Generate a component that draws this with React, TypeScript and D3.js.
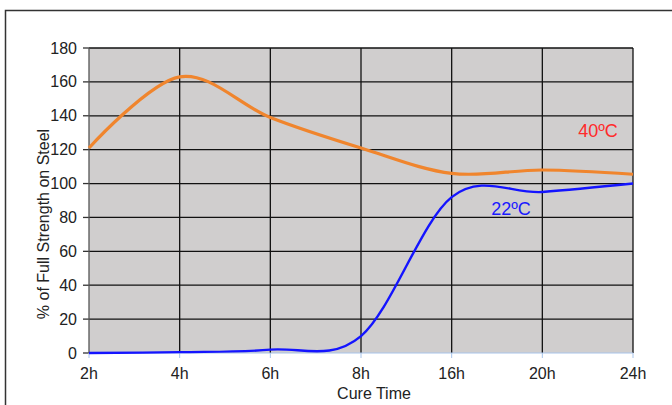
import React from 'react';
import * as d3 from 'd3';

const categories = ['2h', '4h', '6h', '8h', '16h', '20h', '24h'];
const strength40 = [121, 163, 139, 121, 106, 108, 105.5];
const strength22 = [0, 0.5, 2, 10, 92, 95, 100];
const yTicks = [0, 20, 40, 60, 80, 100, 120, 140, 160, 180];

const W = 672;
const H = 405;
const left = 89;
const right = 633;
const top = 48;
const bottom = 353;
const font = '"Liberation Sans", Arial, sans-serif';

export default function App() {
  const x = d3.scalePoint<string>().domain(categories).range([left, right]);
  const y = d3.scaleLinear().domain([0, 180]).range([bottom, top]);

  const line = d3
    .line<number>()
    .x((_d, i) => x(categories[i]) as number)
    .y((d) => y(d))
    .curve(d3.curveCardinal.tension(0));

  return (
    <svg width={W} height={H} style={{ position: 'absolute', left: 0, top: 0, background: '#fff' }}>
      {/* outer frame */}
      <path d={`M5.5,${H} V10.5 H${W}`} fill="none" stroke="#333" strokeWidth={1.5} />

      {/* plot background */}
      <rect x={left} y={top} width={right - left} height={bottom - top} fill="#d0cece" />

      {/* horizontal grid + y ticks */}
      {yTicks.map((t) => (
        <g key={t}>
          {t > 0 && (
            <line x1={left} x2={right} y1={y(t)} y2={y(t)} stroke="#111" strokeWidth={1.3} />
          )}
          <line x1={left - 6} x2={left} y1={y(t)} y2={y(t)} stroke="#333" strokeWidth={1.3} />
          <text
            x={77}
            y={y(t)}
            dy="0.35em"
            textAnchor="end"
            fontFamily={font}
            fontSize={16}
            fill="#222"
          >
            {t}
          </text>
        </g>
      ))}

      {/* vertical grid */}
      {categories.map((c) => (
        <g key={c}>
          <line
            x1={x(c)}
            x2={x(c)}
            y1={top}
            y2={bottom}
            stroke={c === '2h' ? '#555' : '#111'}
            strokeWidth={1.3}
          />
          <line x1={x(c)} x2={x(c)} y1={bottom} y2={bottom + 5} stroke="#a8c4ea" strokeWidth={1} />
          <text
            x={x(c)}
            y={373}
            dy="0.35em"
            textAnchor="middle"
            fontFamily={font}
            fontSize={16}
            fill="#222"
          >
            {c}
          </text>
        </g>
      ))}

      {/* bottom axis line */}
      <line x1={left} x2={right} y1={bottom} y2={bottom} stroke="#a8c4ea" strokeWidth={1} />

      {/* series */}
      <path d={line(strength40) || ''} fill="none" stroke="#f0852d" strokeWidth={3.2} />
      <path d={line(strength22) || ''} fill="none" stroke="#1414ff" strokeWidth={2.4} />

      {/* series labels */}
      <text x={598} y={131} dy="0.35em" textAnchor="middle" fontFamily={font} fontSize={18} fill="#ff2a2a">
        40ºC
      </text>
      <text x={511} y={209} dy="0.35em" textAnchor="middle" fontFamily={font} fontSize={18} fill="#1a1aff">
        22ºC
      </text>

      {/* axis titles */}
      <text
        transform="translate(43,224) rotate(-90)"
        dy="0.35em"
        textAnchor="middle"
        fontFamily={font}
        fontSize={16}
        fill="#222"
      >
        % of Full Strength on Steel
      </text>
      <text x={374} y={393} dy="0.35em" textAnchor="middle" fontFamily={font} fontSize={16} fill="#222">
        Cure Time
      </text>
    </svg>
  );
}
